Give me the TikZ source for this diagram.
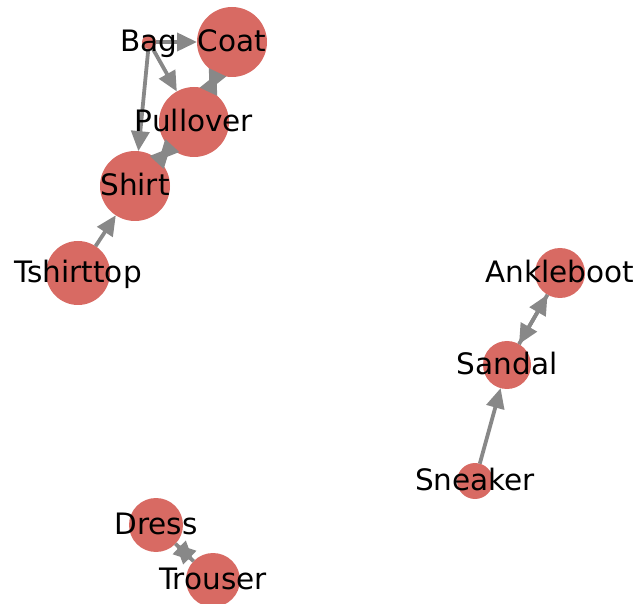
\documentclass[tikz,border=0pt]{standalone}
\usepackage{fontspec}
\setmainfont{DejaVu Sans}
\usetikzlibrary{arrows.meta}
\definecolor{nodered}{RGB}{216,106,99}
\definecolor{edgegray}{RGB}{136,136,136}
\tikzset{
  circ/.style={circle, fill=nodered, draw=none, inner sep=0pt, outer sep=0pt, minimum size=#1},
  lab/.style={inner sep=0pt, font=\fontsize{29.5}{34}\selectfont, text height=22.4pt, text depth=6.8pt, anchor=center},
  link/.style={draw=edgegray, line width=3.8pt, -{Triangle[length=20pt,width=18pt]}},
}
\begin{document}
\begin{tikzpicture}[x=1pt,y=-1pt]
\useasboundingbox (0,0) rectangle (638,604);
% circles
\node[circ=14pt] (bag) at (149,42) {};
\node[circ=70pt] (coat) at (232,42) {};
\node[circ=70pt] (pullover) at (194,122) {};
\node[circ=70pt] (shirt) at (135,186) {};
\node[circ=64pt] (tshirttop) at (78,273) {};
\node[circ=50pt] (ankleboot) at (560,273) {};
\node[circ=48pt] (sandal) at (507,365) {};
\node[circ=36pt] (sneaker) at (475,481) {};
\node[circ=54pt] (dress) at (156,525) {};
\node[circ=54pt] (trouser) at (213,580) {};
% edges
\draw[link] (bag) -- (coat);
\draw[link] (bag) -- (pullover);
\draw[link] (bag) -- (shirt);
\draw[link] (pullover) -- (coat);
\draw[link] (coat) -- (pullover);
\draw[link] (pullover) -- (shirt);
\draw[link] (shirt) -- (pullover);
\draw[link] (tshirttop) -- (shirt);
\draw[link] (sneaker) -- (sandal);
\draw[link] (sandal) -- (ankleboot);
\draw[link] (ankleboot) -- (sandal);
\draw[link] (dress) -- (trouser);
\draw[link] (trouser) -- (dress);
% labels
\node[lab, yshift=-1.5pt] (bagt) at (bag.center) {Bag};
\node[lab, yshift=-1.5pt] (coatt) at (coat.center) {Coat};
\node[lab, yshift=-1.5pt] (pullovert) at (pullover.center) {Pullover};
\node[lab, yshift=-1.5pt] (shirtt) at (shirt.center) {Shirt};
\node[lab, yshift=-1.5pt] (tshirttopt) at (tshirttop.center) {Tshirttop};
\node[lab, yshift=-1.5pt] (anklebootT) at (ankleboot.center) {Ankleboot};
\node[lab, yshift=-1.5pt] (sandalt) at (sandal.center) {Sandal};
\node[lab, yshift=-1.5pt] (sneakert) at (sneaker.center) {Sneaker};
\node[lab, yshift=-1.5pt] (dresst) at (dress.center) {Dress};
\node[lab, yshift=-1.5pt] (trousert) at (trouser.center) {Trouser};
\end{tikzpicture}
\end{document}
